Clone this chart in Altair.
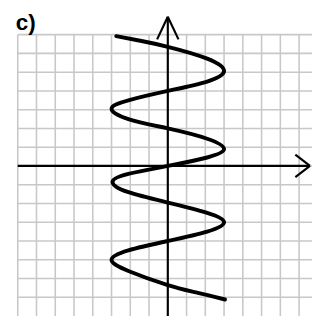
import altair as alt
import pandas as pd

# Curve points (grid units, one square = 1)
curve_x = [-2.75, -1.4, 0.0, 2.1, 3.0, 2.1, 0.0, -2.1, -3.0, -2.1, 0.0, 2.1, 3.0, 2.1, 0.0,
           -2.1, -2.95, -2.1, 0.0, 2.1, 3.0, 2.1, 0.0, -2.1, -3.0, -2.1, 0.0, 1.5, 3.05]
curve_y = [6.92, 6.66, 6.35, 5.72, 5.05, 4.5, 4.0, 3.5, 3.05, 2.5, 2.0, 1.45, 0.9, 0.45, 0.0,
           -0.42, -0.85, -1.4, -1.95, -2.5, -3.0, -3.5, -4.0, -4.5, -5.0, -5.6, -6.35, -6.74, -7.12]

grid_x = list(range(-8, 8))      # vertical grid lines
grid_y = list(range(-7, 8))      # horizontal grid lines
label = ["c)"]

# axis segments (x, y, x2, y2) in grid units: axes and arrow heads
seg_x = [-8.0, 0.0, 0.0, 0.0, 7.58, 7.58]
seg_y = [0.0, -8.0, 7.95, 7.95, 0.0, 0.0]
seg_x2 = [7.58, 0.0, -0.57, 0.57, 6.8, 6.8]
seg_y2 = [0.0, 7.95, 6.75, 6.75, 0.6, -0.6]

XDOM = [-8.935, 7.688]
YDOM = [-8.0, 8.623]

xs = alt.Scale(domain=XDOM, nice=False, zero=False)
ys = alt.Scale(domain=YDOM, nice=False, zero=False)

vgrid = pd.DataFrame({"x": grid_x, "y": [7.0] * len(grid_x), "y2": [-8.0] * len(grid_x)})
hgrid = pd.DataFrame({"y": grid_y, "x": [-8.0] * len(grid_y), "x2": [XDOM[1]] * len(grid_y)})
segs = pd.DataFrame({"x": seg_x, "y": seg_y, "x2": seg_x2, "y2": seg_y2})
curve = pd.DataFrame({"x": curve_x, "y": curve_y, "o": list(range(len(curve_x)))})
lab = pd.DataFrame({"t": label})

gcol = "#c8c8c8"

v = alt.Chart(vgrid).mark_rule(color=gcol, strokeWidth=1.6).encode(
    x=alt.X("x:Q", scale=xs, axis=None),
    y=alt.Y("y:Q", scale=ys, axis=None),
    y2="y2:Q",
)
h = alt.Chart(hgrid).mark_rule(color=gcol, strokeWidth=1.6).encode(
    x=alt.X("x:Q", scale=xs, axis=None),
    x2="x2:Q",
    y=alt.Y("y:Q", scale=ys, axis=None),
)
ax = alt.Chart(segs).mark_rule(color="black", strokeWidth=2.2).encode(
    x=alt.X("x:Q", scale=xs, axis=None),
    x2="x2:Q",
    y=alt.Y("y:Q", scale=ys, axis=None),
    y2="y2:Q",
)
cv = alt.Chart(curve).mark_line(color="black", strokeWidth=4, interpolate="natural",
                                strokeCap="round").encode(
    x=alt.X("x:Q", scale=xs, axis=None),
    y=alt.Y("y:Q", scale=ys, axis=None),
    order="o:Q",
)
tx = alt.Chart(lab).mark_text(align="left", baseline="alphabetic", fontSize=23,
                              fontWeight="bold", font="Liberation Sans", color="black").encode(
    x=alt.value(16),
    y=alt.value(26),
    text="t:N",
)

chart = alt.layer(v, h, ax, cv, tx).properties(
    width=320, height=320,
    padding={"left": -8, "top": -8, "right": 0, "bottom": 0},
    autosize=alt.AutoSizeParams(type="none"),
    background="white",
).configure_view(stroke=None)

chart.save("out.html", embed_options={"renderer": "svg", "actions": False})
